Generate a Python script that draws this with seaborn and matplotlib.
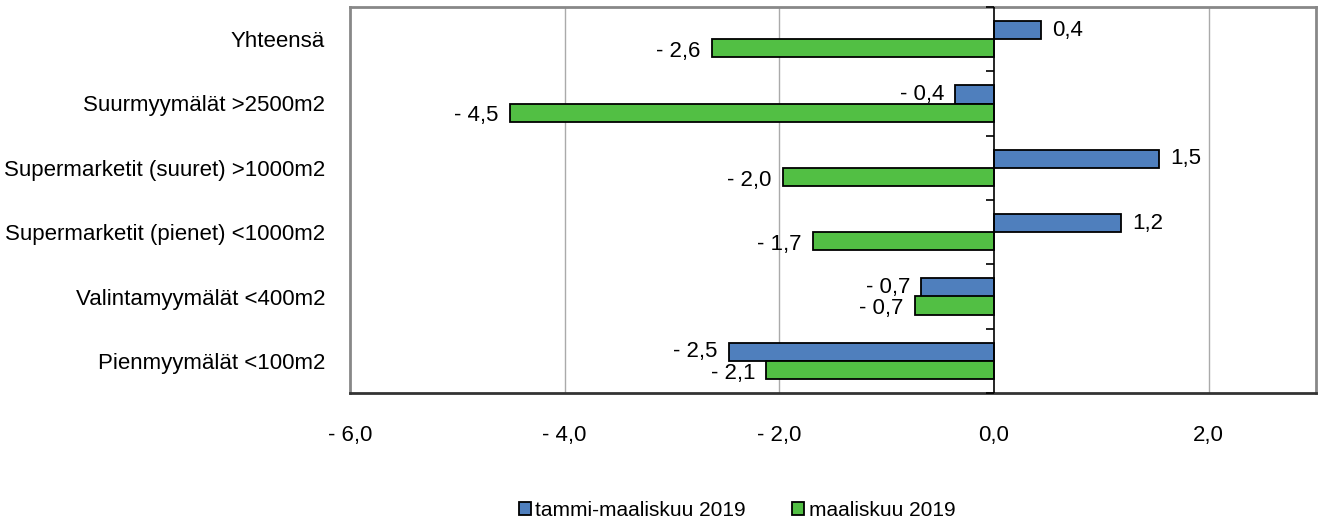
import pandas as pd
import numpy as np
import matplotlib.pyplot as plt
import seaborn as sns

# data
categories = ['Yhteensä', 'Suurmyymälät >2500m2', 'Supermarketit (suuret) >1000m2',
              'Supermarketit (pienet) <1000m2', 'Valintamyymälät <400m2', 'Pienmyymälät <100m2']
series_names = ['tammi-maaliskuu 2019', 'maaliskuu 2019']
q1_values = [0.44, -0.36, 1.54, 1.18, -0.68, -2.47]
march_values = [-2.63, -4.51, -1.97, -1.69, -0.74, -2.12]
x_ticks = [-6, -4, -2, 0, 2]

colors = ['#4F7FBD', '#52BF44']


def fmt(v):
    s = f'{abs(v):.1f}'.replace('.', ',')
    return s if v >= 0 else '- ' + s


df = pd.DataFrame({
    'category': categories * 2,
    'series': [series_names[0]] * len(categories) + [series_names[1]] * len(categories),
    'value': q1_values + march_values,
})

sns.set_style('white')
plt.rcParams['font.family'] = ['Liberation Sans', 'DejaVu Sans']
plt.rcParams['text.color'] = 'black'
plt.rcParams['xtick.color'] = 'black'
plt.rcParams['ytick.color'] = 'black'

fs = 16

fig = plt.figure(figsize=(13.19, 5.23), dpi=100)
ax = fig.add_axes([350 / 1319, 1 - 393 / 523, 966 / 1319, 386 / 523])

sns.barplot(data=df, y='category', x='value', hue='series', orient='h',
            palette=colors, saturation=1, width=0.56, edgecolor='black', linewidth=1.3,
            ax=ax, legend=True)

ax.set_xlim(-6, 3)
ax.set_ylim(len(categories) - 0.5, -0.5)
ax.set_xticks(x_ticks)
ax.set_xticklabels([fmt(t) for t in x_ticks], fontsize=fs)
ax.tick_params(axis='x', direction='out', length=6, width=1.2, color='#333333', pad=17)
ax.tick_params(axis='y', length=0, labelsize=fs, pad=18)
ax.set_xlabel('')
ax.set_ylabel('')

# gridlines
for t in x_ticks[1:]:
    if t != 0:
        ax.axvline(t, color='#AAAAAA', linewidth=1, zorder=0)

# category axis at zero with tick marks between groups
ax.axvline(0, color='black', linewidth=1.2, zorder=3)
bounds = np.arange(len(categories) + 1) - 0.5
ax.plot(np.zeros(len(bounds)), bounds, linestyle='none', marker=0,
        markersize=6, color='black', markeredgewidth=1.2, clip_on=False, zorder=3)

for name in ['top', 'left', 'right']:
    ax.spines[name].set_color('#888888')
    ax.spines[name].set_linewidth(2)
ax.spines['bottom'].set_color('#333333')
ax.spines['bottom'].set_linewidth(2)

# value labels (second series sits a little lower, as in the original)
for i, container in enumerate(ax.containers):
    dy = 0 if i == 0 else -2.5
    for bar in container:
        w = bar.get_width()
        yc = bar.get_y() + bar.get_height() / 2
        if w >= 0:
            ax.annotate(fmt(w), (w, yc), xytext=(8, dy), textcoords='offset points',
                        ha='left', va='center', fontsize=fs)
        else:
            ax.annotate(fmt(w), (w, yc), xytext=(-8, dy), textcoords='offset points',
                        ha='right', va='center', fontsize=fs)

handles, labels = ax.get_legend_handles_labels()
ax.legend_.remove()
fig.legend(handles, labels, loc='center', bbox_to_anchor=(737 / 1319, 1 - 510 / 523),
           ncol=2, frameon=False, fontsize=15, handlelength=0.6, handleheight=0.6,
           handletextpad=0.2, columnspacing=2.2)

plt.savefig('out.png', dpi=100)
